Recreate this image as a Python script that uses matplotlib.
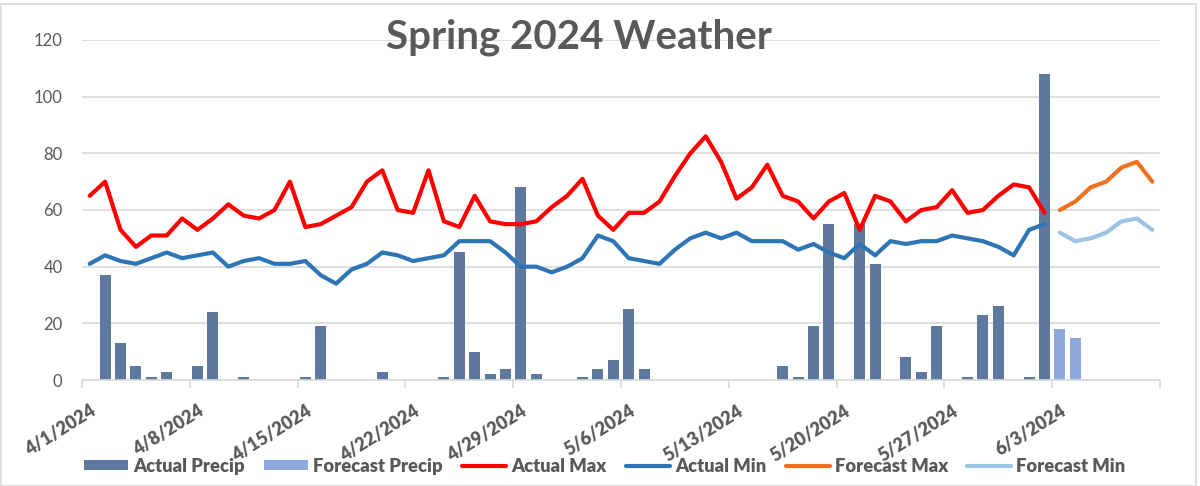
import matplotlib
matplotlib.use("Agg")
import matplotlib.pyplot as plt
import numpy as np
import pandas as pd
from matplotlib.patches import Rectangle

# ---------------- data ----------------
start_date = "2024-04-01"
n_days = 70
dates = pd.date_range(start_date, periods=n_days, freq="D")
date_labels = [f"{d.month}/{d.day}/{d.year}" for d in dates]

actual_precip = [0, 37, 13, 5, 1, 3, 0, 5, 24, 0, 1, 0, 0, 0, 1, 19, 0, 0, 0, 3,
                 0, 0, 0, 1, 45, 10, 2, 4, 68, 2, 0, 0, 1, 4, 7, 25, 4, 0, 0, 0,
                 0, 0, 0, 0, 0, 5, 1, 19, 55, 0, 55, 41, 0, 8, 3, 19, 0, 1, 23, 26,
                 0, 1, 108]
forecast_precip = [18, 15, 0, 0, 0, 0, 0]

actual_max = [65, 70, 53, 47, 51, 51, 57, 53, 57, 62, 58, 57, 60, 70, 54, 55, 58, 61, 70, 74,
              60, 59, 74, 56, 54, 65, 56, 55, 55, 56, 61, 65, 71, 58, 53, 59, 59, 63, 72, 80,
              86, 77, 64, 68, 76, 65, 63, 57, 63, 66, 53, 65, 63, 56, 60, 61, 67, 59, 60, 65,
              69, 68, 59]
actual_min = [41, 44, 42, 41, 43, 45, 43, 44, 45, 40, 42, 43, 41, 41, 42, 37, 34, 39, 41, 45,
              44, 42, 43, 44, 49, 49, 49, 45, 40, 40, 38, 40, 43, 51, 49, 43, 42, 41, 46, 50,
              52, 50, 52, 49, 49, 49, 46, 48, 45, 43, 48, 44, 49, 48, 49, 49, 51, 50, 49, 47,
              44, 53, 55]
forecast_max = [60, 63, 68, 70, 75, 77, 70]
forecast_min = [52, 49, 50, 52, 56, 57, 53]

y_ticks = [0, 20, 40, 60, 80, 100, 120]
title = "Spring 2024 Weather"

# ---------------- style ----------------
FONT = ["Lato", "DejaVu Sans"]
plt.rcParams["font.family"] = FONT
GRAY = "#595959"
GRID = "#D9D9D9"

c_aprec = "#5E789E"
c_fprec = "#8EA9DB"
c_amax = "#FF0000"
c_amin = "#2E75B6"
c_fmax = "#F07020"
c_fmin = "#9DC3E6"

W, H = 1200, 486
fig = plt.figure(figsize=(W / 100, H / 100), dpi=100)
ax = fig.add_axes([82 / W, 1 - 380 / H, (1160 - 82) / W, 340 / H])

n_act = len(actual_precip)
x_act = np.arange(n_act)
x_fc = np.arange(n_act, n_act + len(forecast_max))

h1 = ax.bar(x_act, actual_precip, width=0.72, color=c_aprec, label="Actual Precip", zorder=2)
h2 = ax.bar(x_fc, forecast_precip, width=0.72, color=c_fprec, label="Forecast Precip", zorder=2)
lkw = dict(lw=3, solid_joinstyle="round", solid_capstyle="round", zorder=3)
h3, = ax.plot(x_act, actual_max, color=c_amax, label="Actual Max", **lkw)
h4, = ax.plot(x_act, actual_min, color=c_amin, label="Actual Min", **lkw)
h5, = ax.plot(x_fc, forecast_max, color=c_fmax, label="Forecast Max", **lkw)
h6, = ax.plot(x_fc, forecast_min, color=c_fmin, label="Forecast Min", **lkw)

ax.set_xlim(-0.5, n_days - 0.5)
ax.set_ylim(0, 120)
ax.set_yticks(y_ticks)
ax.set_yticklabels([str(v) for v in y_ticks], fontsize=12, color=GRAY)
ax.tick_params(axis="y", length=0, pad=14)
ax.yaxis.grid(True, color=GRID, lw=1.2, zorder=0)
ax.set_axisbelow(True)

for s in ["left", "right", "top"]:
    ax.spines[s].set_visible(False)
ax.spines["bottom"].set_color(GRID)
ax.spines["bottom"].set_linewidth(1.2)

label_pos = np.arange(0, n_days, 7)
ax.set_xticks(label_pos)
ax.set_xticklabels([date_labels[i] for i in label_pos], rotation=32, ha="right",
                   va="top", rotation_mode="anchor",
                   fontproperties=dict(family=FONT, weight="heavy", size=13),
                   color=GRAY)
ax.tick_params(axis="x", which="major", length=0, pad=16)
ax.set_xticks(np.arange(-0.5, n_days, 7), minor=True)
ax.tick_params(axis="x", which="minor", length=6, color=GRID, width=1.2)

fig.text(579 / W, 1 - 37 / H, title, ha="center", va="center", fontsize=29,
         fontweight="bold", color=GRAY)

handles = [h1, h2, h3, h4, h5, h6]
leg = fig.legend(handles, [h.get_label() for h in handles], loc="center",
                 bbox_to_anchor=(605 / W, 1 - 466 / H), ncol=6,
                 frameon=False, prop=dict(family=FONT, weight="heavy", size=13.2),
                 handlelength=2.4, handleheight=0.45,
                 handletextpad=0.28, columnspacing=1.05, borderaxespad=0)
for t in leg.get_texts():
    t.set_color(GRAY)

fig.patches.append(Rectangle((0.5 / W, 0.5 / H), 1195 / W, 1 - 5 / H, transform=fig.transFigure,
                             fill=False, edgecolor=GRID, lw=1.2))

fig.savefig("out.png", dpi=100)
